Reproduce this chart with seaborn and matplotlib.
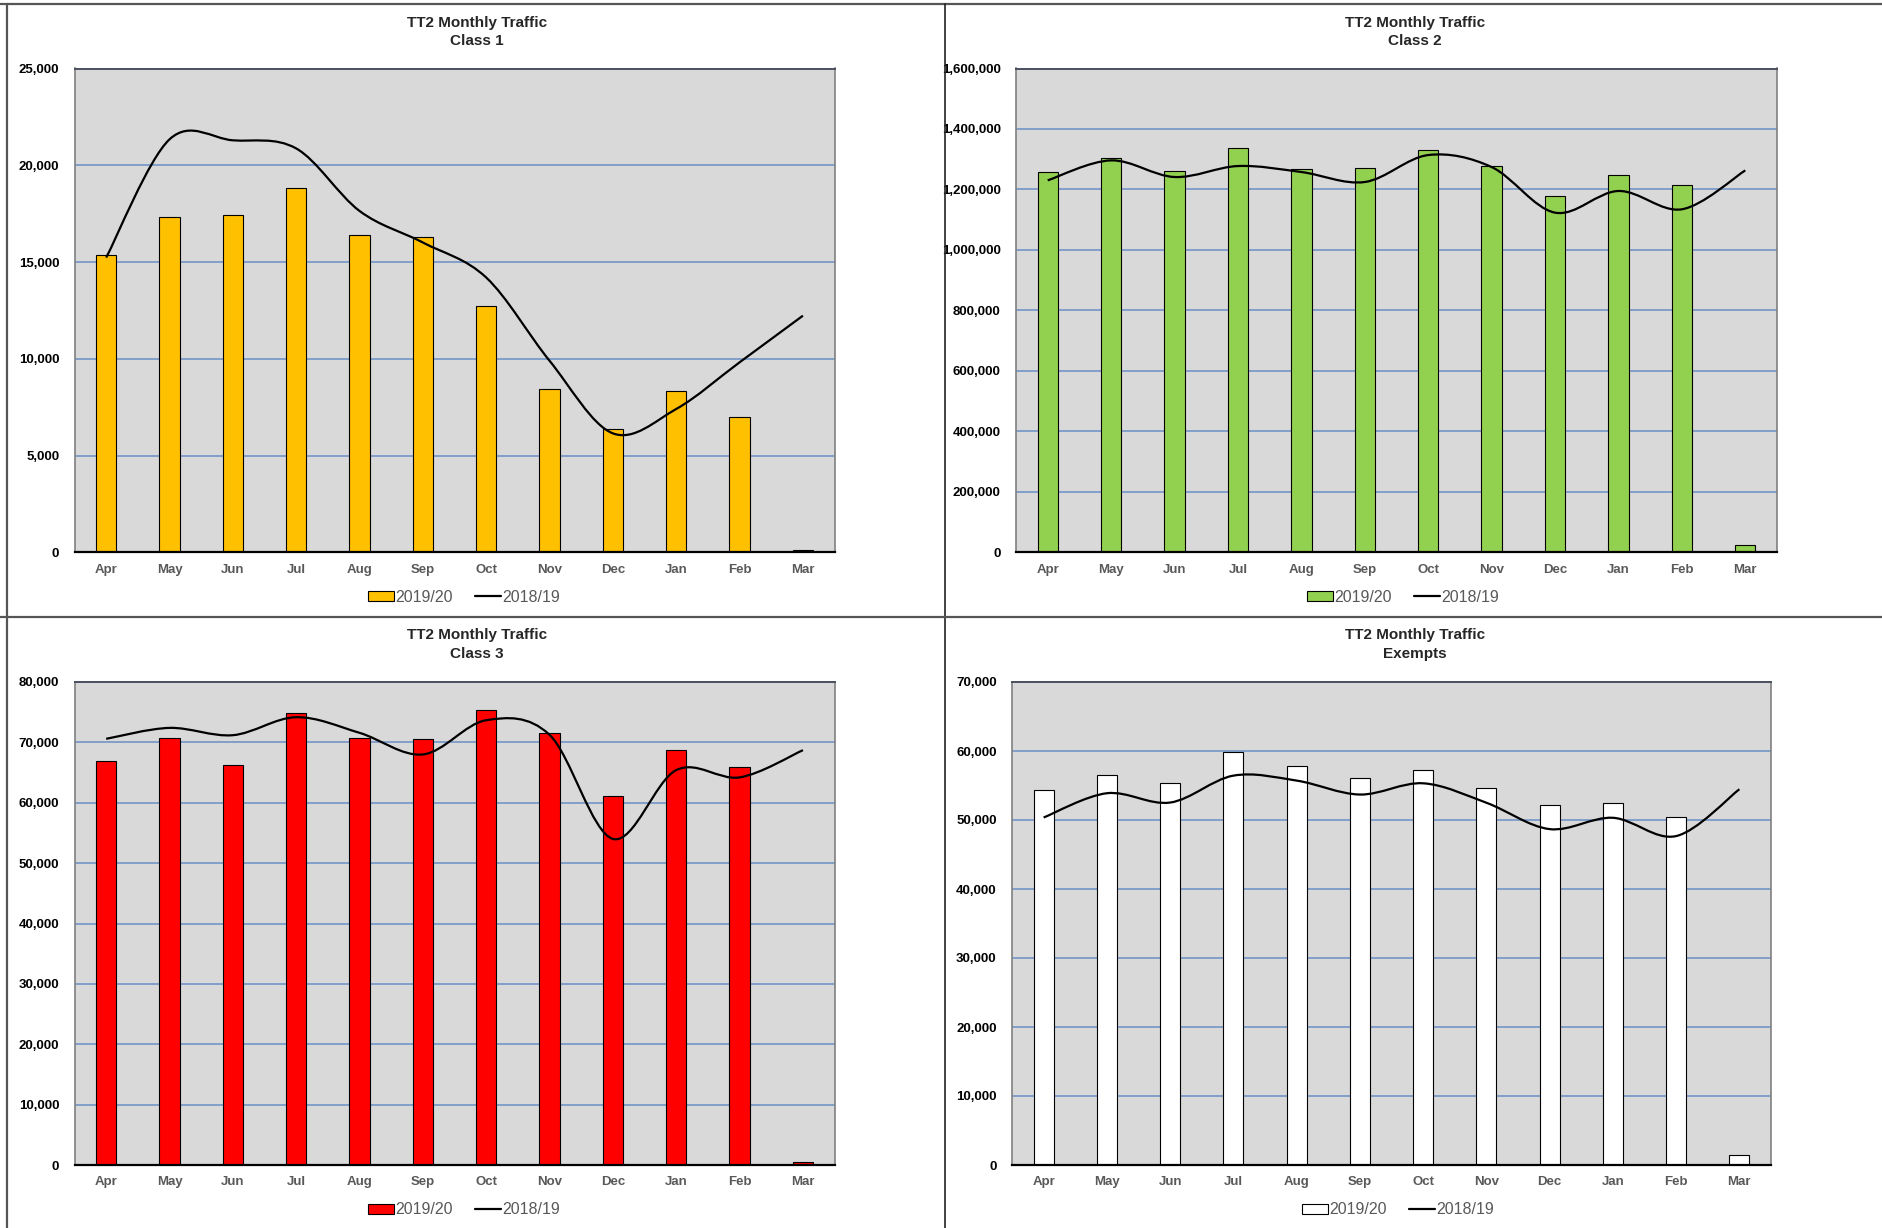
import numpy as np
import pandas as pd
import matplotlib
matplotlib.use('Agg')
import matplotlib.pyplot as plt
import seaborn as sns
from matplotlib.path import Path
from matplotlib.patches import PathPatch, Patch
from matplotlib.lines import Line2D
from matplotlib.ticker import FuncFormatter, MultipleLocator

months = ['Apr', 'May', 'Jun', 'Jul', 'Aug', 'Sep', 'Oct', 'Nov', 'Dec', 'Jan', 'Feb', 'Mar']

# 2019/20 (bars) and 2018/19 (smoothed line)
class1_1920 = [15340, 17310, 17420, 18830, 16390, 16280, 12720, 8440, 6360, 8320, 6980, 140]
class1_1819 = [15230, 21340, 21290, 20870, 17640, 16010, 14200, 9900, 6150, 7410, 9820, 12230]

class2_1920 = [1257700, 1302800, 1259900, 1338000, 1266500, 1269800, 1331400, 1276400, 1177400, 1248900, 1215900, 25300]
class2_1819 = [1230200, 1296200, 1241200, 1277500, 1257700, 1224700, 1313800, 1274200, 1123400, 1195000, 1134500, 1263200]

class3_1920 = [66900, 70750, 66300, 74940, 70700, 70640, 75380, 71580, 61120, 68770, 65850, 440]
class3_1819 = [70590, 72400, 71190, 74170, 71580, 68000, 73670, 71250, 54010, 65410, 64200, 68710]

exempt_1920 = [54360, 56580, 55420, 59800, 57880, 56050, 57200, 54600, 52240, 52530, 50460, 1440]
exempt_1819 = [50360, 53880, 52530, 56430, 55710, 53690, 55320, 52500, 48680, 50320, 47670, 54460]

sns.set_style('white')
plt.rcParams['font.family'] = ['Liberation Sans', 'DejaVu Sans']

W, H = 1883, 1228
fig = plt.figure(figsize=(W / 100, H / 100), dpi=100)


def smooth_path(vals):
    # Excel style smoothed line: cubic bezier through every point
    p = np.column_stack([np.arange(len(vals)), np.asarray(vals, dtype=float)])
    n = len(p)
    verts = [p[0]]
    codes = [Path.MOVETO]
    for i in range(n - 1):
        p0 = p[max(i - 1, 0)]
        p3 = p[min(i + 2, n - 1)]
        c1 = p[i] + (p[i + 1] - p0) / 6
        c2 = p[i + 1] - (p3 - p[i]) / 6
        verts += [c1, c2, p[i + 1]]
        codes += [Path.CURVE4] * 3
    return Path(verts, codes)


panels = [
    ('Class 1', class1_1920, class1_1819, '#FFC000', 25000, 5000, (74.5, 68.5, 834.6, 552.4), 477, 0, 464),
    ('Class 2', class2_1920, class2_1819, '#92D050', 1600000, 200000, (1016, 68.5, 1777, 552.4), 1415, 0, 1403),
    ('Class 3', class3_1920, class3_1819, '#FF0000', 80000, 10000, (74.5, 682, 834.6, 1165), 477, 613, 464),
    ('Exempts', exempt_1920, exempt_1819, '#FFFFFF', 70000, 10000, (1012, 682, 1771, 1165), 1415, 613, 1398),
]

for name, bars, line, color, ymax, step, box, tx, ty, lx in panels:
    x0, y0, x1, y1 = box
    ax = fig.add_axes([x0 / W, 1 - y1 / H, (x1 - x0) / W, (y1 - y0) / H])
    df = pd.DataFrame({'month': months, 'value': bars})
    sns.barplot(data=df, x='month', y='value', color=color, saturation=1,
                width=0.32, edgecolor='black', linewidth=0.8, ax=ax, zorder=2)
    ax.add_patch(PathPatch(smooth_path(line), facecolor='none', edgecolor='black',
                           lw=1.6, zorder=3))
    ax.set_xlim(-0.5, 11.5)
    ax.set_ylim(0, ymax)
    ax.set_facecolor('#D9D9D9')
    ax.set_axisbelow(True)
    ax.yaxis.set_major_locator(MultipleLocator(step))
    ax.yaxis.set_major_formatter(FuncFormatter(lambda v, p: f'{v:,.0f}'))
    ax.yaxis.grid(True, color='#7295C8', lw=1.2)
    ax.set_xlabel('')
    ax.set_ylabel('')
    ax.tick_params(axis='both', length=0)
    ax.tick_params(axis='y', pad=11, labelsize=9.5, labelcolor='black')
    ax.tick_params(axis='x', pad=8, labelsize=9.5, labelcolor='#595959')
    for lab in ax.get_xticklabels() + ax.get_yticklabels():
        lab.set_fontweight('bold')
    for s in ['left', 'right']:
        ax.spines[s].set_color('#808080')
        ax.spines[s].set_linewidth(1.2)
    ax.spines['top'].set_color('#4A5060')
    ax.spines['top'].set_linewidth(1.4)
    ax.spines['bottom'].set_color('black')
    ax.spines['bottom'].set_linewidth(1.6)

    fig.text(tx / W, 1 - (ty + 22.5) / H, 'TT2 Monthly Traffic', ha='center', va='center',
             fontsize=11, fontweight='bold')
    fig.text(tx / W, 1 - (ty + 41) / H, name, ha='center', va='center',
             fontsize=11, fontweight='bold')

    handles = [Patch(facecolor=color, edgecolor='black', lw=0.8),
               Line2D([], [], color='black', lw=1.6)]
    fig.legend(handles, ['2019/20', '2018/19'], loc='center',
               bbox_to_anchor=(lx / W, 1 - (ty + 597) / H), ncol=2, frameon=False,
               fontsize=11.5, labelcolor='#595959', handlelength=1.6, handleheight=0.6,
               handletextpad=0.1, columnspacing=1.4)

# panel frame lines
frame = dict(transform=fig.transFigure, color='#555555', lw=1.6)
fig.add_artist(Line2D([0, 1], [1 - 4 / H, 1 - 4 / H], **frame))
fig.add_artist(Line2D([7 / W, 7 / W], [0, 1 - 4 / H], **frame))
fig.add_artist(Line2D([945 / W, 945 / W], [0, 1 - 4 / H], transform=fig.transFigure, color='#222222', lw=1.2))
fig.add_artist(Line2D([0, 1], [1 - 617 / H, 1 - 617 / H], **frame))

fig.savefig('out.png', dpi=100)
